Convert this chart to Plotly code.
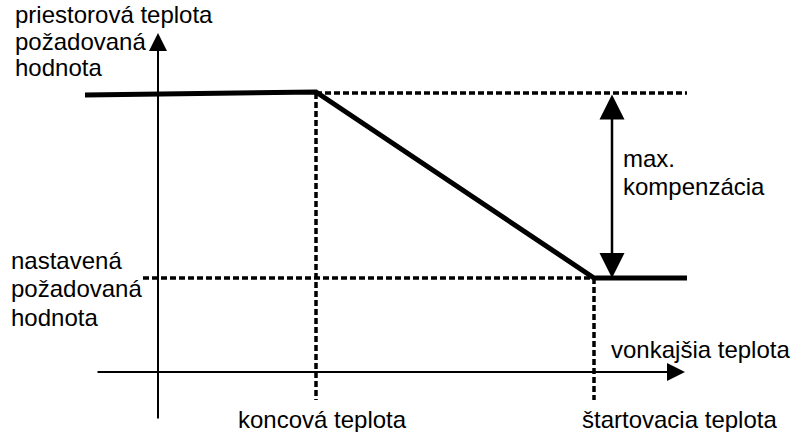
import plotly.graph_objects as go

# Schematic values (outdoor temperature on x, room setpoint on y; screen units)
curve_x = [85, 316, 594, 687]
curve_y = [95, 92, 278, 278]

end_temp_x = 316        # koncová teplota
start_temp_x = 594      # štartovacia teplota
max_setpoint_y = 93     # priestorová teplota požadovaná hodnota
base_setpoint_y = 278   # nastavená požadovaná hodnota

top_dash_x = [end_temp_x, 687]
bottom_dash_x = [143, start_temp_x]
vdash_bottom = 400

axis_origin_x = 158
axis_origin_y = 372

labels = [
    ("priestorová teplota", 13, 14),
    ("požadovaná", 13, 41),
    ("hodnota", 13, 67),
    ("nastavená", 9, 260),
    ("požadovaná", 9, 288),
    ("hodnota", 9, 317),
    ("max.", 621, 158),
    ("kompenzácia", 621, 186),
    ("vonkajšia teplota", 609, 349),
    ("koncová teplota", 236, 419),
    ("štartovacia teplota", 580, 419),
]

FONT = "Liberation Sans, Arial, sans-serif"

fig = go.Figure()

# dashed helper lines
dash = dict(color="black", width=3.5, dash="6px,3px")
fig.add_trace(go.Scatter(x=top_dash_x, y=[max_setpoint_y] * 2, mode="lines", line=dash, hoverinfo="skip"))
fig.add_trace(go.Scatter(x=bottom_dash_x, y=[base_setpoint_y] * 2, mode="lines", line=dash, hoverinfo="skip"))
fig.add_trace(go.Scatter(x=[end_temp_x] * 2, y=[max_setpoint_y, vdash_bottom], mode="lines", line=dash, hoverinfo="skip"))
fig.add_trace(go.Scatter(x=[start_temp_x] * 2, y=[base_setpoint_y, vdash_bottom], mode="lines", line=dash, hoverinfo="skip"))

# heating curve
fig.add_trace(go.Scatter(x=curve_x, y=curve_y, mode="lines",
                         line=dict(color="black", width=5), hoverinfo="skip"))

annotations = []
# vertical axis arrow
annotations.append(dict(x=axis_origin_x, y=33, ax=axis_origin_x, ay=420,
                        xref="x", yref="y", axref="x", ayref="y",
                        showarrow=True, arrowhead=2, arrowsize=1.8, arrowwidth=2,
                        arrowcolor="black", text=""))
# horizontal axis arrow
annotations.append(dict(x=685, y=axis_origin_y, ax=96, ay=axis_origin_y,
                        xref="x", yref="y", axref="x", ayref="y",
                        showarrow=True, arrowhead=2, arrowsize=1.8, arrowwidth=2,
                        arrowcolor="black", text=""))
# max. compensation double arrow
annotations.append(dict(x=612, y=base_setpoint_y, ax=612, ay=max_setpoint_y,
                        xref="x", yref="y", axref="x", ayref="y",
                        showarrow=True, arrowhead=2, startarrowhead=2,
                        arrowside="end+start", arrowsize=2.0, startarrowsize=2.0,
                        arrowwidth=2.5, arrowcolor="black", text=""))

for txt, x, y in labels:
    annotations.append(dict(x=x, y=y, xref="x", yref="y", text=txt, showarrow=False,
                            xanchor="left", yanchor="middle",
                            font=dict(family=FONT, size=24, color="black")))

fig.update_layout(
    width=791, height=432,
    margin=dict(l=0, r=0, t=0, b=0),
    paper_bgcolor="white", plot_bgcolor="white",
    showlegend=False,
    xaxis=dict(range=[0, 791], visible=False, fixedrange=True),
    yaxis=dict(range=[432, 0], visible=False, fixedrange=True),
    annotations=annotations,
)

fig.write_html(
    "out.html",
    config={"displayModeBar": False},
    post_script="document.body.style.margin='0';document.body.style.overflow='hidden';",
)
